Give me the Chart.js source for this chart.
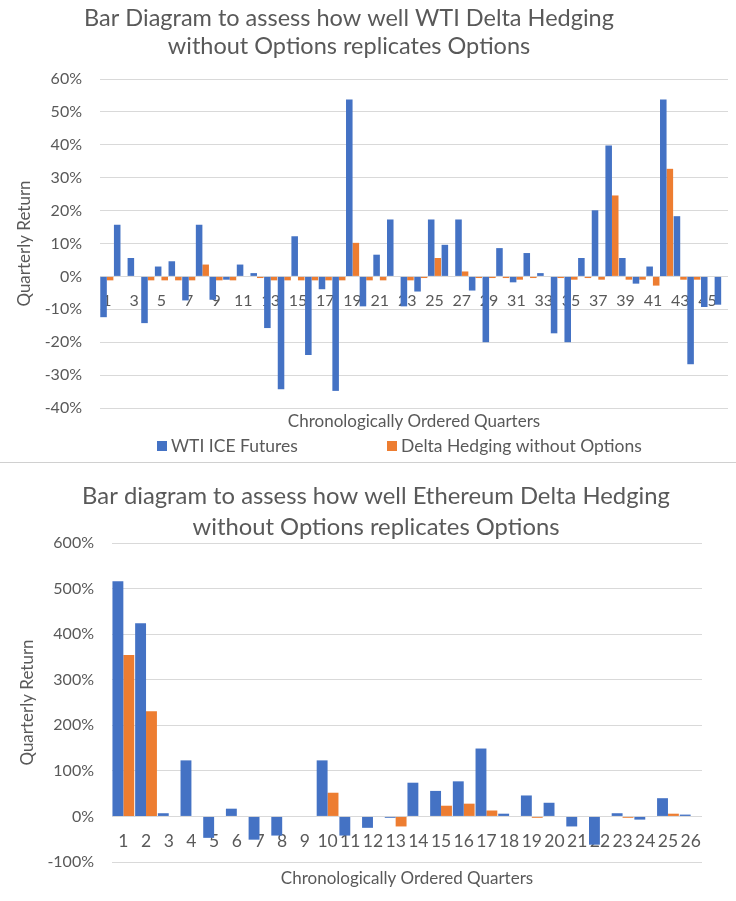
<!DOCTYPE html>
<html>
<head>
<meta charset="utf-8">
<script src="https://cdn.jsdelivr.net/npm/chart.js@4.4.1/dist/chart.umd.min.js"></script>
<style>
  body { margin: 0; background: #fff; width: 736px; height: 901px; overflow: hidden; }
  canvas { display: block; }
  #sep { height: 1px; background: #d0d0d0; }
</style>
</head>
<body>
<canvas id="grafico-wti" width="736" height="462"></canvas>
<div id="sep"></div>
<canvas id="grafico-eth" width="736" height="438"></canvas>
<script>
// ---- dados ----
const trimestresWti = Array.from({ length: 46 }, (_, i) => String(i + 1));
const wtiFuturos = [
  -12.4, 15.7, 5.6, -14.2, 3.0, 4.6, -7.3, 15.7, -7.1, -1.0,
  3.6, 1.0, -15.7, -34.3, 12.2, -23.9, -3.9, -34.8, 53.8, -9.1,
  6.6, 17.3, -9.1, -4.6, 17.3, 9.6, 17.3, -4.3, -20.0, 8.6,
  -1.8, 7.1, 1.0, -17.3, -20.0, 5.6, 20.1, 39.8, 5.6, -2.2,
  3.0, 53.8, 18.3, -26.7, -9.3, -8.6
];
const wtiDelta = [
  -1.2, 0, 0, -1.2, -1.2, -1.2, -1.2, 3.6, -1.2, -1.2,
  0, -0.5, -1.2, -1.2, -1.2, -1.2, -1.2, -1.2, 10.2, -1.2,
  -1.2, 0, -1.2, -0.5, 5.6, 0, 1.5, -0.5, -0.5, -0.5,
  -1.0, -0.5, 0, -0.5, -1.0, -0.5, -1.0, 24.6, -1.0, -1.0,
  -2.8, 32.7, -1.0, -1.0, 0, 0
];

const trimestresEth = Array.from({ length: 26 }, (_, i) => String(i + 1));
const ethFuturos = [
  516, 424, 7, 123, -47, 17, -51, -42, 0, 123,
  -42, -25, -3, 74, 56, 77, 149, 6, 46, 30,
  -22, -62, 7, -7, 40, 4
];
const ethDelta = [
  354, 231, 0, 0, 0, 0, 0, 0, 0, 52,
  0, 0, -22, 0, 23.5, 28, 13, 0, -3, 0,
  0, 0, -3, 0, 6, 0
];

const AZUL = "#4472C4";
const LARANJA = "#ED7D31";
const CINZA_TEXTO = "#595959";
const CINZA_GRADE = "#d9d9d9";
const FONTE = "Lato, 'Open Sans', sans-serif";

/* ======================================================
   TEXTOS SOLTOS (titulo, titulo do eixo x, legenda)
   ====================================================== */
const pluginTextos = {
  id: "textos",
  afterDraw(chart, args, opts) {
    const ctx = chart.ctx;
    ctx.save();
    ctx.textBaseline = "middle";
    (opts.linhas || []).forEach(l => {
      ctx.font = l.tamanho + "px " + FONTE;
      ctx.textAlign = l.alinhar || "center";
      ctx.fillStyle = CINZA_TEXTO;
      ctx.fillText(l.texto, l.x, l.y);
    });
    (opts.legenda || []).forEach(item => {
      ctx.fillStyle = item.cor;
      ctx.fillRect(item.x, item.y - 5, 10, 10);
      ctx.fillStyle = CINZA_TEXTO;
      ctx.font = "17.5px " + FONTE;
      ctx.textAlign = "left";
      ctx.fillText(item.texto, item.x + 14, item.y);
    });
    ctx.restore();
  }
};

function criarGrafico(id, labels, serieA, serieB, cfg) {
  const ctx = document.getElementById(id).getContext("2d");
  return new Chart(ctx, {
    type: "bar",
    data: {
      labels,
      datasets: [
        { label: cfg.nomeA, data: serieA, backgroundColor: AZUL,
          categoryPercentage: 0.96, barPercentage: 1.0 },
        { label: cfg.nomeB, data: serieB, backgroundColor: LARANJA,
          categoryPercentage: 0.96, barPercentage: 1.0 }
      ]
    },
    options: {
      responsive: false,
      animation: false,
      devicePixelRatio: 1,
      layout: { padding: cfg.padding },
      plugins: {
        legend: { display: false },
        title: { display: false },
        tooltip: { enabled: false },
        textos: { linhas: cfg.linhas, legenda: cfg.legenda }
      },
      scales: {
        x: {
          position: { y: 0 },
          grid: { display: false },
          border: { display: false },
          ticks: {
            autoSkip: false,
            maxRotation: 0,
            padding: cfg.padX,
            color: CINZA_TEXTO,
            font: { family: FONTE, size: cfg.fonteX },
            callback: function (v, i) {
              return i % cfg.passoX === 0 ? this.getLabelForValue(v) : "";
            }
          }
        },
        y: {
          min: cfg.min,
          max: cfg.max,
          afterFit: s => { s.width = cfg.larguraY; },
          grid: { color: CINZA_GRADE, lineWidth: 1, drawTicks: false },
          border: { display: false },
          ticks: {
            stepSize: cfg.passoY,
            padding: 18,
            color: CINZA_TEXTO,
            font: { family: FONTE, size: cfg.fonteY },
            callback: v => v + "%"
          },
          title: {
            display: true,
            text: "Quarterly Return",
            color: CINZA_TEXTO,
            font: { family: FONTE, size: 17 },
            padding: { top: cfg.padTituloY, bottom: 0 }
          }
        }
      }
    },
    plugins: [pluginTextos]
  });
}

criarGrafico("grafico-wti", trimestresWti, wtiFuturos, wtiDelta, {
  nomeA: "WTI ICE Futures",
  nomeB: "Delta Hedging without Options",
  padding: { top: 79, right: 8, bottom: 54, left: 0 },
  min: -40, max: 60, passoY: 10,
  larguraY: 100, fonteY: 16, fonteX: 16, passoX: 2, padX: 7, padTituloY: 14,
  linhas: [
    { texto: "Bar Diagram to assess how well WTI Delta Hedging", x: 349, y: 18, tamanho: 23.5 },
    { texto: "without Options replicates Options", x: 349, y: 46, tamanho: 23.5 },
    { texto: "Chronologically Ordered Quarters", x: 414, y: 422, tamanho: 17 }
  ],
  legenda: [
    { cor: AZUL, texto: "WTI ICE Futures", x: 157, y: 446 },
    { cor: LARANJA, texto: "Delta Hedging without Options", x: 387, y: 446 }
  ]
});

criarGrafico("grafico-eth", trimestresEth, ethFuturos, ethDelta, {
  nomeA: "Ethereum",
  nomeB: "Delta Hedging without Options",
  padding: { top: 80, right: 34, bottom: 39, left: 0 },
  min: -100, max: 600, passoY: 100,
  larguraY: 112, fonteY: 16, fonteX: 17.5, passoX: 1, padX: 6, padTituloY: 17,
  linhas: [
    { texto: "Bar diagram to assess how well Ethereum Delta Hedging", x: 376, y: 33, tamanho: 23.8 },
    { texto: "without Options replicates Options", x: 376, y: 64, tamanho: 23.8 },
    { texto: "Chronologically Ordered Quarters", x: 407, y: 416, tamanho: 17 }
  ],
  legenda: []
});
</script>
</body>
</html>
